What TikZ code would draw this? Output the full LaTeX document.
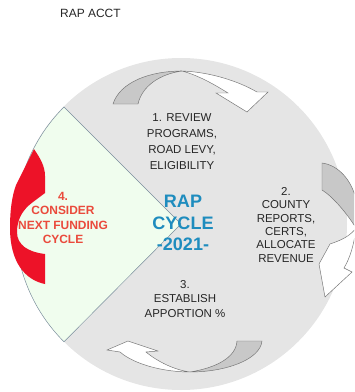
\documentclass[tikz,border=0pt]{standalone}
\usepackage{fontspec}
\setmainfont{Liberation Sans}
\usepackage{tikz}
\definecolor{diskgray}{RGB}{229,229,229}
\definecolor{sectorgreen}{RGB}{240,253,238}
\definecolor{sectorline}{RGB}{120,140,155}
\definecolor{arrowgray}{RGB}{200,200,200}
\definecolor{arrowred}{RGB}{237,18,40}
\definecolor{textred}{RGB}{234,74,60}
\definecolor{cycleblue}{RGB}{30,140,190}

\begin{document}
\begin{tikzpicture}[x=0.03cm, y=-0.03cm,
    steptext/.style={font=\fontsize{9.8}{11.6}\selectfont, align=center, text=black!85},
    tail/.style={fill=arrowgray, draw=black!55, line width=0.4pt},
    head/.style={fill=white, draw=black!55, line width=0.4pt}]
    \useasboundingbox (0,0) rectangle (354,392);
    \clip (0,0) rectangle (354,392);

    % 1. Title
    \node[anchor=west, inner sep=0pt, font=\fontsize{10.2}{12}\selectfont, text=black!85] (title) at (60,13) {RAP ACCT};

    % 2. Disk and the green sector of step 4
    \coordinate (hub) at (181,224);
    \fill[diskgray] (hub) circle[radius=166];
    \filldraw[fill=sectorgreen, draw=sectorline, line width=0.4pt]
        (hub) -- (64,107) arc[start angle=225, end angle=135, radius=166] -- cycle;

    % 3. Top arrow (tail grey, head white)
    \draw[tail] (113,104) .. controls (120,82) and (150,71) .. (182,71)
        .. controls (160,74) and (142,86) .. (138,104) -- cycle;
    \draw[head] (182,71) .. controls (210,72) and (238,81) .. (257,92) -- (268,92) -- (247,112)
        -- (216,93) -- (228,93) .. controls (212,83) and (197,75) .. (182,71) -- cycle;

    % 4. Right arrow
    \draw[tail] (322,163) .. controls (338,165) and (352,180) .. (356,200) -- (356,228)
        .. controls (346,212) and (332,196) .. (322,190) -- cycle;
    \draw[head] (356,228) .. controls (354,245) and (350,258) .. (344,268) -- (352,272) -- (325,297)
        -- (319,264) -- (330,244) .. controls (342,240) and (350,236) .. (356,228) -- cycle;

    % 5. Bottom arrow
    \draw[tail] (262,341) .. controls (260,360) and (225,372) .. (190,372)
        .. controls (215,368) and (236,358) .. (237,341) -- cycle;
    \draw[head] (190,372) .. controls (165,372) and (135,365) .. (120,352) -- (107,350) -- (128,341)
        -- (158,351) -- (146,352) .. controls (158,362) and (175,370) .. (190,372) -- cycle;

    % 6. Red arrow of step 4
    \fill[arrowred] (34,149) .. controls (40,158) and (45,166) .. (45,176) -- (45,193) -- (33,202)
        .. controls (22,210) and (17,220) .. (17,232) .. controls (17,245) and (28,252) .. (45,254)
        -- (45,284) .. controls (25,280) and (10,262) .. (10,228) .. controls (10,210) and (12,196) .. (16,185)
        -- cycle;

    % 7. Texts
    \node[steptext, font=\fontsize{9.8}{13.7}\selectfont] (review) at (182,142)
        {1. REVIEW\\PROGRAMS,\\ROAD LEVY,\\ELIGIBILITY};
    \node[steptext, font=\fontsize{9.8}{11.4}\selectfont] (county) at (286,225)
        {2.\\COUNTY\\REPORTS,\\CERTS,\\ALLOCATE\\REVENUE};
    \node[steptext, font=\fontsize{9.8}{12}\selectfont] (establish) at (185,299)
        {3.\\ESTABLISH\\APPORTION \%};
    \node[steptext, text=textred, font=\bfseries\fontsize{10.2}{12.2}\selectfont] (consider) at (63,218)
        {4.\\CONSIDER\\NEXT FUNDING\\CYCLE};
    \node[align=center, text=cycleblue, font=\bfseries\fontsize{15.4}{18.3}\selectfont] (cycle) at (183,223)
        {RAP\\CYCLE\\-2021-};
\end{tikzpicture}
\end{document}
